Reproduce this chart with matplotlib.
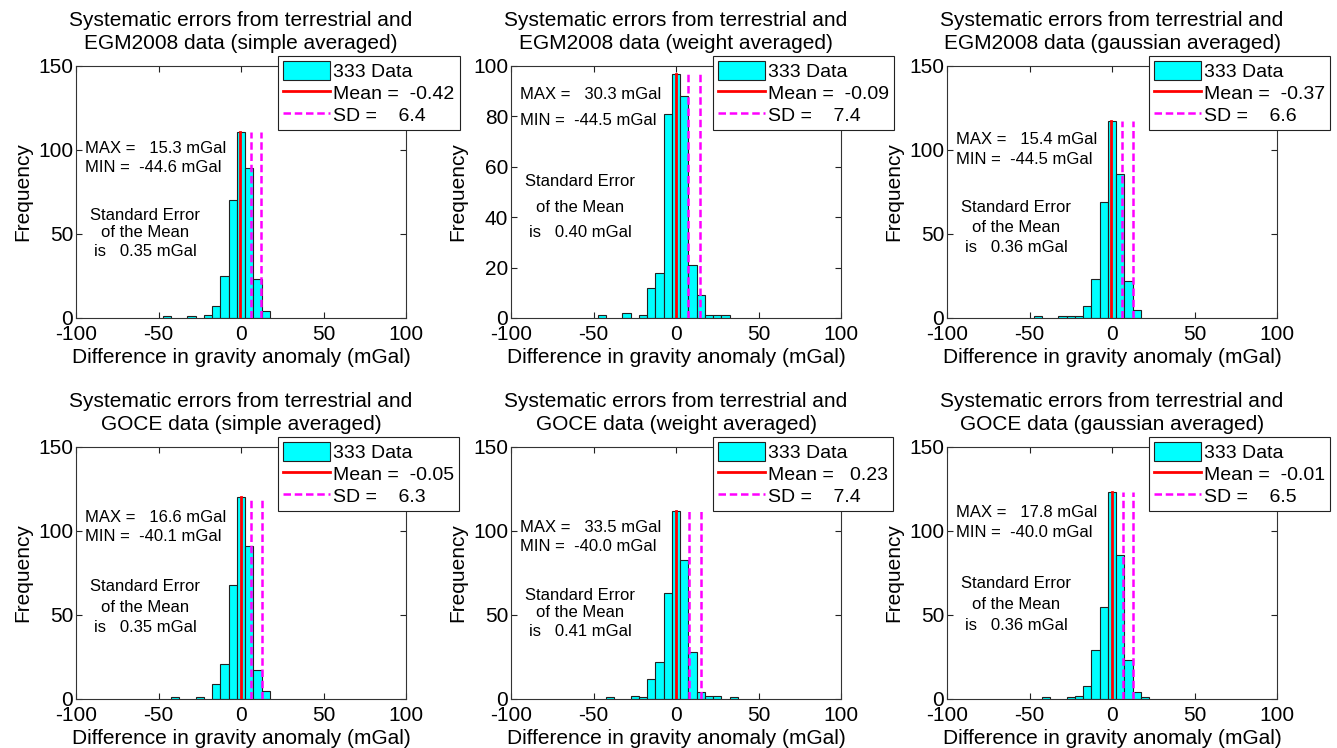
import numpy as np
import matplotlib
matplotlib.use('Agg')
import matplotlib.pyplot as plt

plt.rcParams['font.family'] = ['Liberation Sans', 'DejaVu Sans']
plt.rcParams['axes.unicode_minus'] = False

# 直方图区间中心 (mGal) 与频数, 每个子图一组
centers_1 = [-45, -30, -20, -15, -10, -5, 0, 5, 10, 15]
counts_1 = [1, 1, 2, 7, 25, 70, 111, 89, 23, 4]
centers_2 = [-45, -30, -20, -15, -10, -5, 0, 5, 10, 15, 20, 25, 30]
counts_2 = [1, 2, 1, 12, 18, 81, 97, 88, 21, 9, 1, 1, 1]
centers_3 = [-45, -30, -25, -20, -15, -10, -5, 0, 5, 10, 15]
counts_3 = [1, 1, 1, 1, 7, 23, 69, 117, 86, 22, 5]
centers_4 = [-40, -25, -15, -10, -5, 0, 5, 10, 15]
counts_4 = [1, 1, 9, 21, 68, 120, 91, 17, 5]
centers_5 = [-40, -25, -20, -15, -10, -5, 0, 5, 10, 15, 20, 25, 35]
counts_5 = [1, 2, 1, 12, 22, 63, 112, 83, 28, 4, 2, 2, 1]
centers_6 = [-40, -25, -20, -15, -10, -5, 0, 5, 10, 15, 20]
counts_6 = [1, 1, 2, 8, 29, 55, 123, 86, 23, 4, 1]

means = [-0.42, -0.09, -0.37, -0.05, 0.23, -0.01]
sds = [6.4, 7.4, 6.6, 6.3, 7.4, 6.5]
maxs = [15.3, 30.3, 15.4, 16.6, 33.5, 17.8]
mins = [-44.6, -44.5, -44.5, -40.1, -40.0, -40.0]
sems = [0.35, 0.40, 0.36, 0.35, 0.41, 0.36]
n_data = 333

titles = ['Systematic errors from terrestrial and\nEGM2008 data (simple averaged)',
          'Systematic errors from terrestrial and\nEGM2008 data (weight averaged)',
          'Systematic errors from terrestrial and\nEGM2008 data (gaussian averaged)',
          'Systematic errors from terrestrial and\nGOCE data (simple averaged)',
          'Systematic errors from terrestrial and\nGOCE data (weight averaged)',
          'Systematic errors from terrestrial and\nGOCE data (gaussian averaged)']

centers = [centers_1, centers_2, centers_3, centers_4, centers_5, centers_6]
counts = [counts_1, counts_2, counts_3, counts_4, counts_5, counts_6]
ymax = [150, 100, 150, 150, 150, 150]
yticks = [[0, 50, 100, 150], [0, 20, 40, 60, 80, 100]] + [[0, 50, 100, 150]] * 4

# 文字位置 (数据坐标)
max_y = [100.6, 88.5, 106.5, 108.3, 101.8, 111.3]
min_y = [89.3, 78.2, 94.6, 97.0, 90.5, 99.4]
se_y = [[61.3, 50.6, 39.3], [54, 44, 34], [65.5, 53.6, 41.7],
        [66.7, 54.2, 42.3], [61.9, 51.2, 39.9], [68.5, 56.0, 43.5]]

fig = plt.figure(figsize=(13.37, 7.48), dpi=100)
W, H = 1337.0, 748.0
lefts = [76, 511, 947]
bottoms = [318, 699]
aw, ah = 330, 252
fs = 15

for k in range(6):
    r, c = divmod(k, 3)
    ax = fig.add_axes([lefts[c] / W, 1 - bottoms[r] / H, aw / W, ah / H])
    hb = ax.bar(centers[k], counts[k], width=5, color='cyan', edgecolor='#222222',
                linewidth=0.8, zorder=2)
    top = max(counts[k])
    m, s = means[k], sds[k]
    hm, = ax.plot([m, m], [0, top], color='red', lw=2, zorder=3)
    hs, = ax.plot([m + s, m + s], [0, top], color='magenta', lw=1.8, ls='--',
                  dashes=(3, 1.5), zorder=3)
    ax.plot([m + 2 * s, m + 2 * s], [0, top], color='magenta', lw=1.8, ls='--',
            dashes=(3, 1.5), zorder=3)

    ax.set_xlim(-100, 100)
    ax.set_ylim(0, ymax[k])
    ax.set_xticks([-100, -50, 0, 50, 100])
    ax.set_yticks(yticks[k])
    ax.tick_params(direction='in', length=4, width=0.8, top=True, right=True,
                   labelsize=fs, pad=2, colors='#222222', labelcolor='black')
    ax.tick_params(axis='x', pad=5)
    for sp in ax.spines.values():
        sp.set_color('#333333')
        sp.set_linewidth(0.8)

    ax.set_title(titles[k], fontsize=fs, pad=12, linespacing=1.3)
    ax.set_xlabel('Difference in gravity anomaly (mGal)', fontsize=fs, labelpad=3)
    ax.set_ylabel('Frequency', fontsize=fs, labelpad=4)

    ax.text(-94.5, max_y[k], 'MAX =   %.1f mGal' % maxs[k], fontsize=12, va='center', ha='left')
    ax.text(-94.5, min_y[k], 'MIN =  %.1f mGal' % mins[k], fontsize=12, va='center', ha='left')
    se_lines = ['Standard Error', 'of the Mean', 'is   %.2f mGal' % sems[k]]
    for line, yy in zip(se_lines, se_y[k]):
        ax.text(-58, yy, line, fontsize=12, va='center', ha='center')

    labels = ['%d Data' % n_data, 'Mean = %6.2f' % m, 'SD = %6.1f' % s]
    leg = ax.legend([hb, hm, hs], labels, loc='upper left',
                    bbox_to_anchor=(202 / aw, 1 + 10 / ah),
                    borderaxespad=0, fontsize=14, fancybox=False, framealpha=1,
                    edgecolor='#222222', handlelength=2.4, handleheight=1.1,
                    labelspacing=0.12, handletextpad=0.2, borderpad=0.25)
    leg.get_frame().set_linewidth(0.8)
    leg.set_zorder(5)

fig.savefig('out.png', dpi=100)
